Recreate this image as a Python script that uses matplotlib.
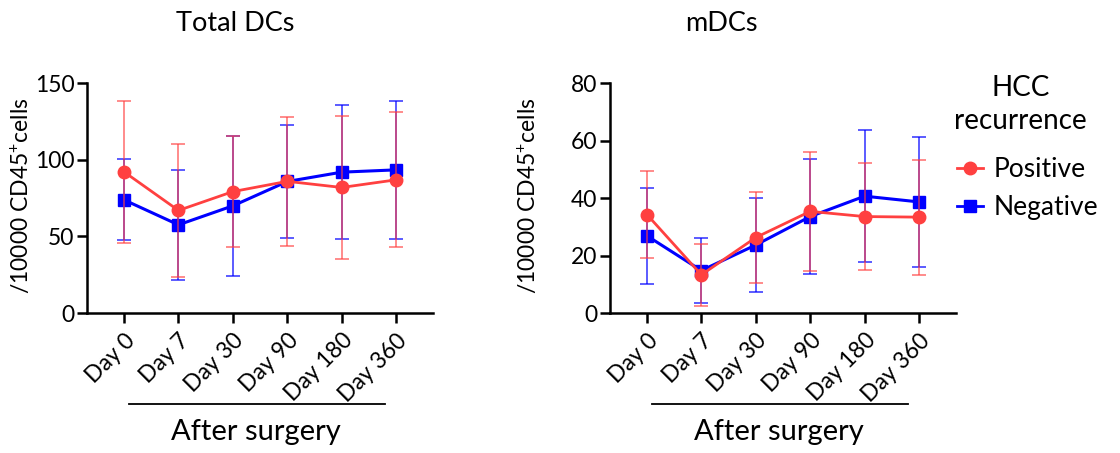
import numpy as np
import matplotlib
matplotlib.use('Agg')
import matplotlib.pyplot as plt
from matplotlib.lines import Line2D

plt.rcParams['font.family'] = ['Lato', 'DejaVu Sans']
plt.rcParams['mathtext.fontset'] = 'custom'
plt.rcParams['mathtext.rm'] = 'Lato'

# --- Data ---
days = ['Day 0', 'Day 7', 'Day 30', 'Day 90', 'Day 180', 'Day 360']

total_pos = [92.2, 67.0, 79.3, 86.0, 82.0, 87.0]
total_pos_sd = [46.4, 43.3, 36.5, 42.1, 47.0, 44.1]
total_neg = [73.9, 57.6, 70.0, 85.9, 92.0, 93.5]
total_neg_sd = [26.5, 36.1, 45.6, 36.6, 43.8, 45.0]

mdc_pos = [34.3, 13.3, 26.3, 35.4, 33.6, 33.4]
mdc_pos_sd = [15.2, 10.7, 15.8, 20.7, 18.6, 20.0]
mdc_neg = [26.9, 14.8, 23.7, 33.6, 40.7, 38.7]
mdc_neg_sd = [16.7, 11.2, 16.4, 20.0, 23.0, 22.7]

titles = ['Total DCs', 'mDCs']
ylims = [150, 80]
yticks = [[0, 50, 100, 150], [0, 20, 40, 60, 80]]

red = '#FF4040'
blue = '#0000FF'

fig = plt.figure(figsize=(11.2, 4.53), dpi=100)
ax1 = fig.add_axes([0.0777, 0.309, 0.309, 0.507])
ax2 = fig.add_axes([0.5446, 0.309, 0.309, 0.507])

x = np.arange(len(days))
panels = [(ax1, total_pos, total_pos_sd, total_neg, total_neg_sd),
          (ax2, mdc_pos, mdc_pos_sd, mdc_neg, mdc_neg_sd)]

for i, (ax, pos, pos_sd, neg, neg_sd) in enumerate(panels):
    # negative group underneath, positive on top
    eb = ax.errorbar(x, neg, yerr=neg_sd, color=blue, lw=2.2, marker='s', ms=8,
                     capsize=5, elinewidth=1.2, capthick=1.2, zorder=3)
    for art in eb[1] + eb[2]:
        art.set_alpha(0.75)
    eb = ax.errorbar(x, pos, yerr=pos_sd, color=red, lw=2.0, marker='o', ms=9,
                     capsize=5, elinewidth=1.2, capthick=1.2, zorder=4)
    for art in eb[1] + eb[2]:
        art.set_alpha(0.7)

    ax.set_xlim(-0.68, 5.68)
    ax.set_ylim(0, ylims[i])
    ax.set_yticks(yticks[i])
    ax.set_xticks(x)
    ax.set_xticklabels(days, rotation=45, ha='right', rotation_mode='anchor')
    ax.tick_params(axis='both', width=1.8, length=7, pad=2)
    ax.tick_params(axis='y', labelsize=16.5)
    ax.tick_params(axis='x', labelsize=16.5, pad=5)
    for side in ['top', 'right']:
        ax.spines[side].set_visible(False)
    for side in ['left', 'bottom']:
        ax.spines[side].set_linewidth(1.8)

    ax.set_ylabel('/10000 CD45$^{+}$cells', fontsize=16.5)
    ax.yaxis.set_label_coords(-0.155 if i == 0 else -0.202, 0.509)

    # bracket under x labels
    trans = ax.get_xaxis_transform()
    ax.plot([0.1, 4.8], [-0.396, -0.396], color='black', lw=1.3,
            transform=trans, clip_on=False)
    ax.text(2.42, -0.52, 'After surgery', transform=trans, ha='center',
            va='center', fontsize=21)
    ax.text(2.04 if i == 0 else 1.36, 1.262, titles[i], transform=trans,
            ha='center', va='center', fontsize=19.5)

# legend: title as separate text, entries below
fig.text(0.911, 0.769, 'HCC\nrecurrence', ha='center', va='center',
         fontsize=20, linespacing=1.3)
handles = [Line2D([], [], color=red, lw=2, marker='o', ms=9),
           Line2D([], [], color=blue, lw=2, marker='s', ms=8)]
fig.legend(handles, ['Positive', 'Negative'], loc='center left',
           bbox_to_anchor=(0.852, 0.583), frameon=False, fontsize=19,
           handlelength=1.0, handletextpad=0.4, labelspacing=0.5,
           borderpad=0.1, borderaxespad=0)

fig.savefig('out.png', dpi=100)
